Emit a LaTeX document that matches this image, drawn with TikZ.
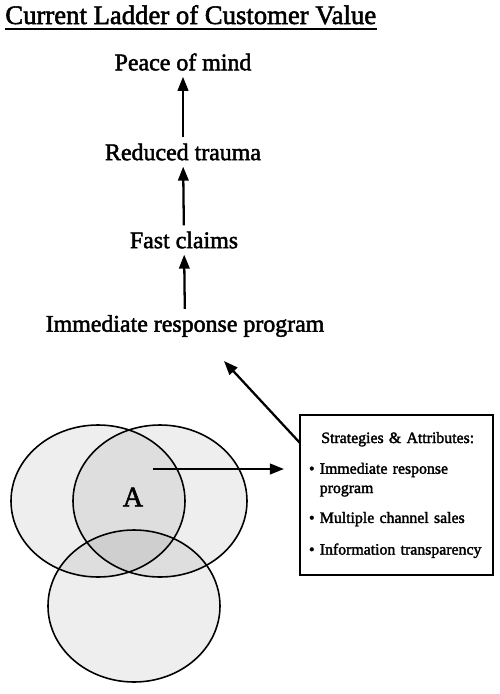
\documentclass[tikz,border=0pt]{standalone}
\usepackage{fontspec}
\setmainfont{Liberation Serif}[UprightFeatures={FakeBold=2}]
\usetikzlibrary{arrows.meta}

\tikzset{
  rung/.style={font=\fontsize{13.6}{15}\selectfont},
  climb/.style={-{Triangle[length=8pt,width=6pt]},line width=1.3pt},
  bubble/.style={draw,line width=0.9pt,fill=black,fill opacity=0.065,draw opacity=1},
  listbox/.style={draw,line width=1.2pt,minimum width=3.86cm,minimum height=3.2cm,
    align=left,font=\fontsize{9}{11}\selectfont,text width=3.5cm}
}

\begin{document}
\begin{tikzpicture}[x=0.02cm,y=-0.02cm]
\useasboundingbox (0,0) rectangle (500,694);

	% title
	\node[anchor=base west,inner sep=0pt,font=\fontsize{15.2}{18}\selectfont] (title) at (5,24) {Current Ladder of Customer Value};
	\draw[line width=0.9pt] ([yshift=-2.5pt]title.south west) -- ([yshift=-2.5pt]title.south east);

	% ladder
	\node[rung] (peace) at (183,62) {Peace of mind};
	\node[rung] (trauma) at (183,152) {Reduced trauma};
	\node[rung] (claims) at (184,240) {Fast claims};
	\node[rung] (program) at (185,326) {Immediate response program};
	\draw[climb] (program) -- (claims);
	\draw[climb] (claims) -- (trauma);
	\draw[climb] (trauma) -- (peace);

	% circles
	\draw[bubble] (98,501) ellipse (87 and 76);
	\draw[bubble] (160,501) ellipse (87 and 76);
	\draw[bubble] (134,606) ellipse (86 and 76);
	\node[font=\fontsize{16}{18}\selectfont] (A) at (133,497) {A};

	% strategies
	\node[listbox] (box) at (396.5,495) {%
	\hspace*{7pt}Strategies \& Attributes:\\[6.5pt]
	\textbullet\ Immediate response\\
	\hphantom{\textbullet\ }program\\[6pt]
	\textbullet\ Multiple channel sales\\[7pt]
	\textbullet\ Information transparency};

	\coordinate (from) at (153,469);
	\coordinate (to) at (284,469);
	\coordinate (corner) at (300,443);
	\coordinate (tip) at (224,361);
	\draw[climb] (from) -- (to);
	\draw[climb] (corner) -- (tip);

\end{tikzpicture}
\end{document}
